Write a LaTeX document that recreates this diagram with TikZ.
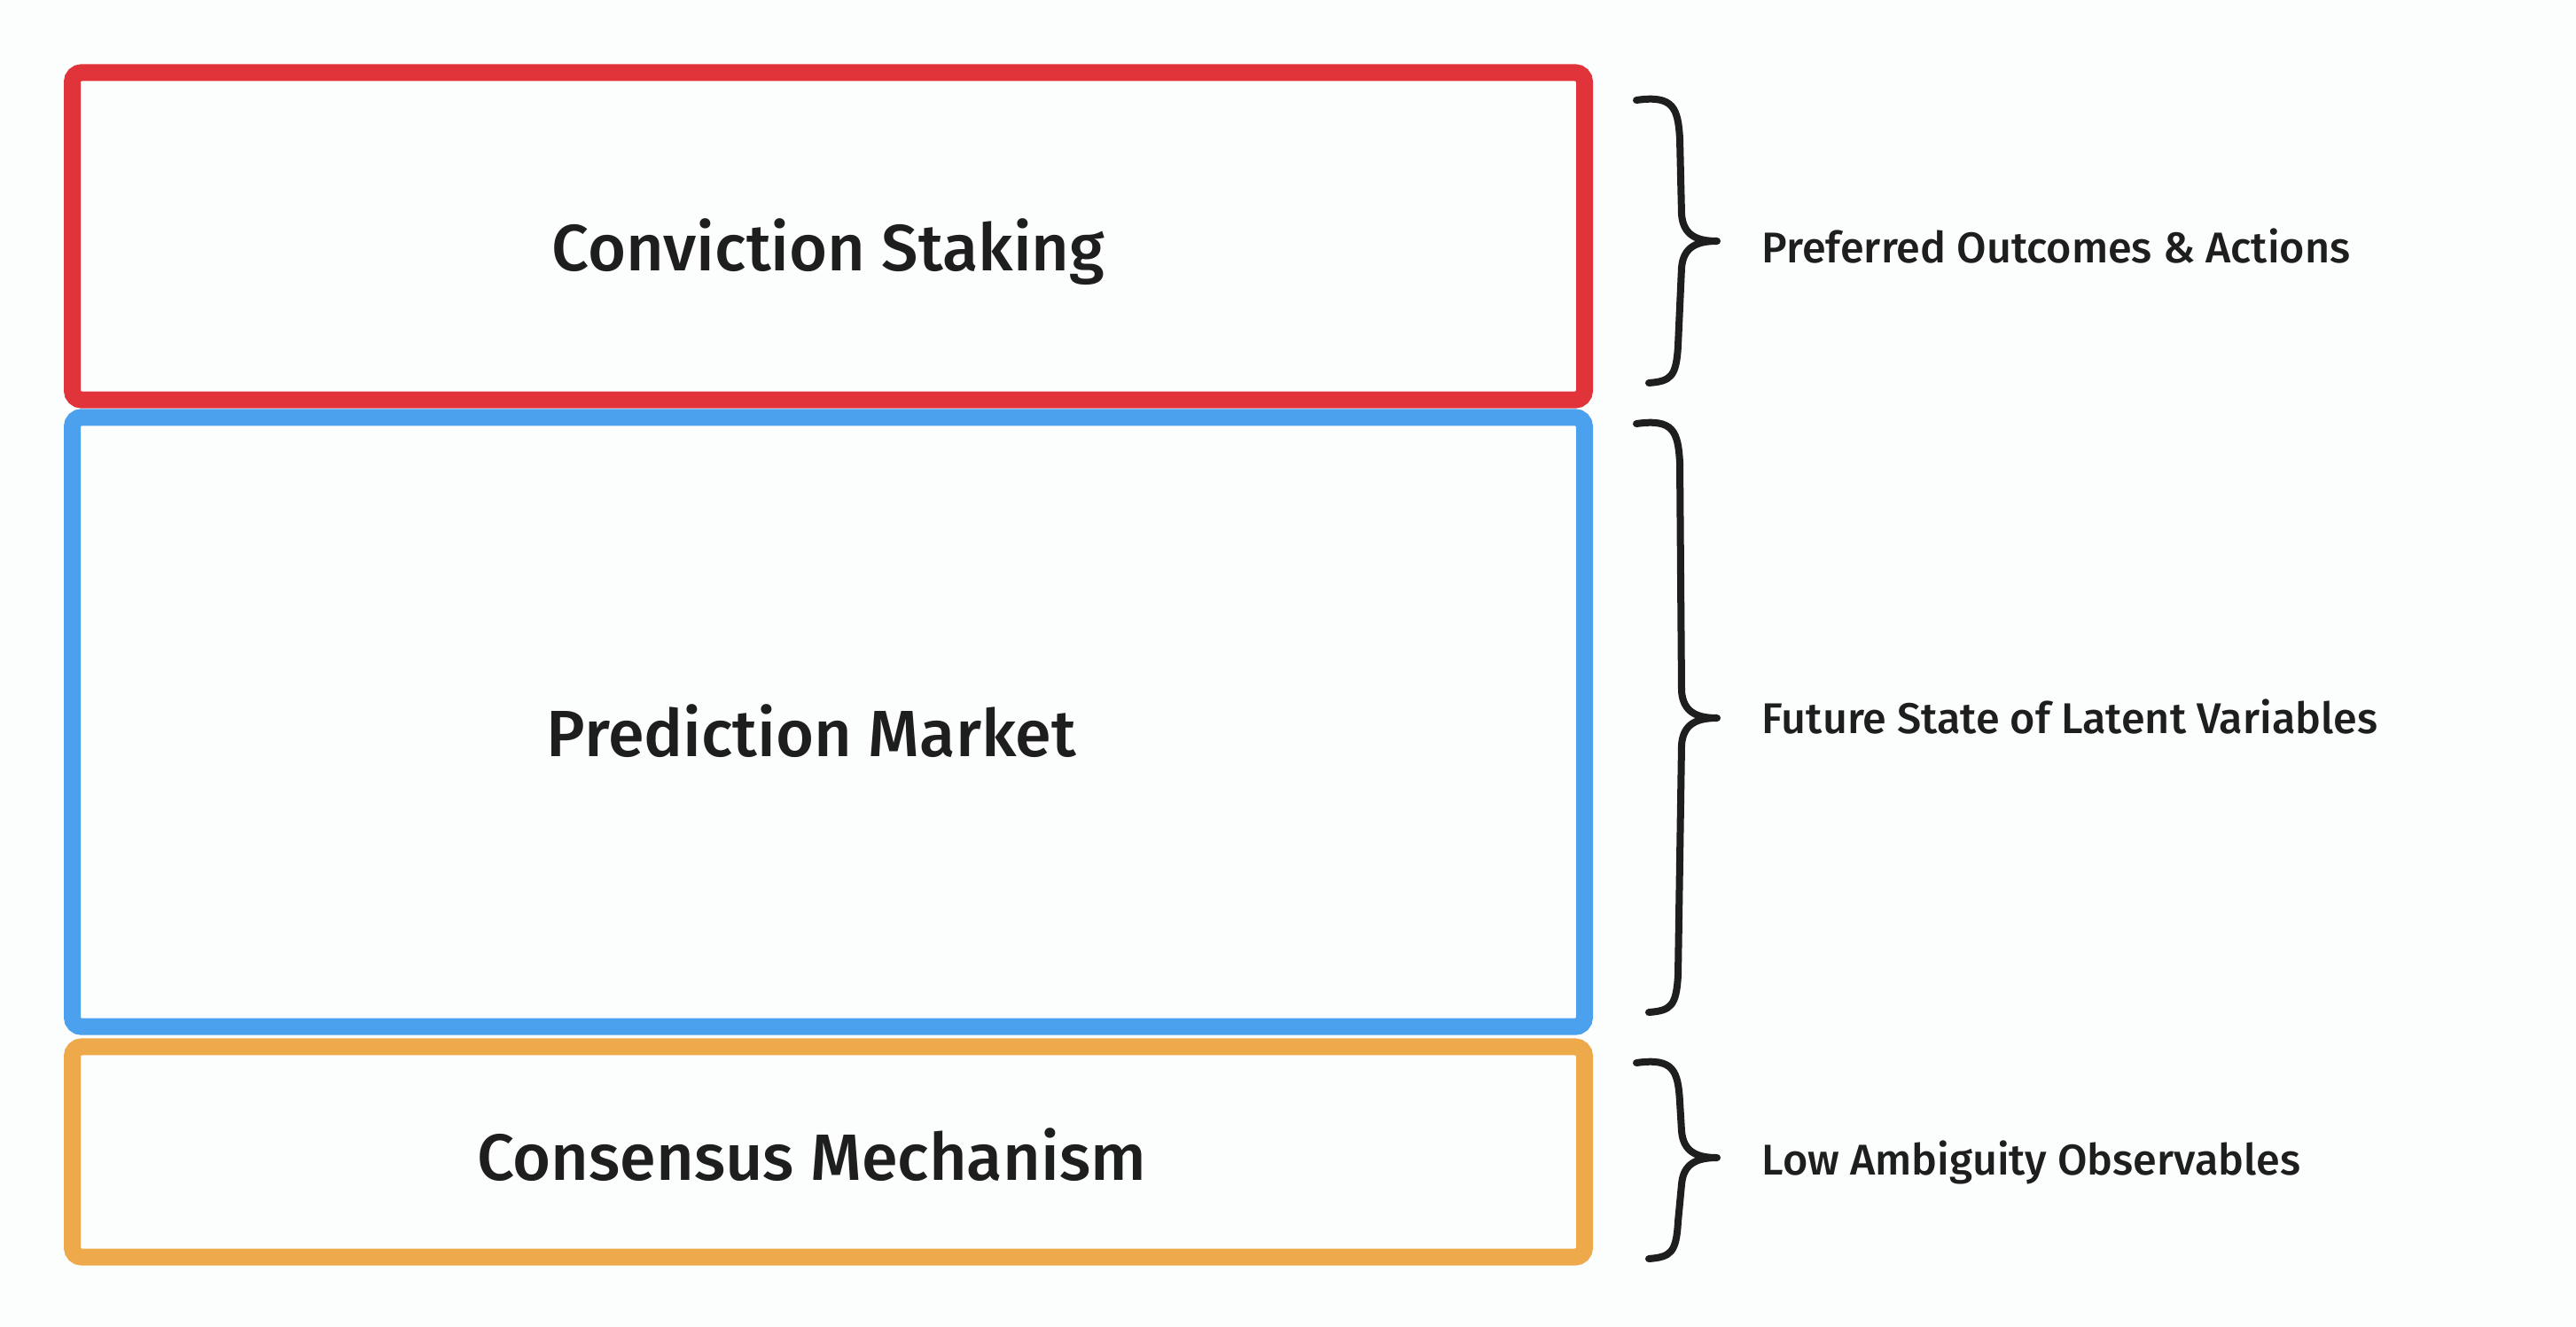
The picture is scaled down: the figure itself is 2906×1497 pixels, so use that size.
\documentclass[tikz,border=0pt]{standalone}
\usepackage{fontspec}
\setmainfont{Fira Sans Medium}
\usepackage{xcolor}
\usepackage{tikz}
\usetikzlibrary{positioning}
\definecolor{stakered}{HTML}{E1343A}
\definecolor{marketblue}{HTML}{4BA1EE}
\definecolor{consorange}{HTML}{EEA94A}
\definecolor{inkgray}{HTML}{1E1E1E}
\definecolor{paper}{HTML}{FCFEFE}

\begin{document}
\begin{tikzpicture}[x=0.01cm, y=-0.01cm,
      layer/.style={draw=#1, line width=0.19cm, rounded corners=3pt, minimum width=17.05cm,
                    inner sep=0pt, text=inkgray, font=\fontsize{21}{25}\selectfont,
                    text height=0.78cm, text depth=0pt},
      note/.style={anchor=west, text=inkgray, font=\fontsize{13.8}{16}\selectfont,
                   inner sep=0pt, text height=0.34cm, text depth=0pt},
      brace/.style={draw=inkgray, line width=0.08cm, line cap=round, line join=round}]
    \fill[paper] (0,0) rectangle (2906,1497);
    \node[layer=stakered, minimum height=3.69cm] (staking) at (934.5,266.5) {Conviction Staking};
    \node[layer=marketblue, minimum height=6.87cm] (market) at (934.5,814.5) {Prediction Market\hspace*{0.38cm}};
    \node[layer=consorange, minimum height=2.37cm, text height=0.64cm] (consensus) at (934.5,1299.5) {Consensus Mechanism\hspace*{0.38cm}};
    \node[note, right=1.9cm of staking.east, yshift=-0.13cm] (prefs) {Preferred Outcomes \& Actions};
    \node[note, right=1.9cm of market.east, yshift=0.04cm] (latent) {Future State of Latent Variables};
    \node[note, right=1.9cm of consensus.east, yshift=-0.09cm] (observ) {Low Ambiguity Observables};
    \foreach \ya/\ym/\yb in {107/272/430, 472/810/1140, 1193/1306/1418}
      \draw[brace] (1846,\ya+6) .. controls (1888,\ya) and (1893,\ya+15) .. (1895,\ya+50)
        -- (1897,\ym-30) .. controls (1899,\ym-6) and (1915,\ym) .. (1937,\ym)
        .. controls (1915,\ym) and (1899,\ym+6) .. (1897,\ym+30)
        -- (1893,\yb-40) .. controls (1891,\yb-5) and (1885,\yb) .. (1860,\yb+2);
  \end{tikzpicture}
\end{document}
